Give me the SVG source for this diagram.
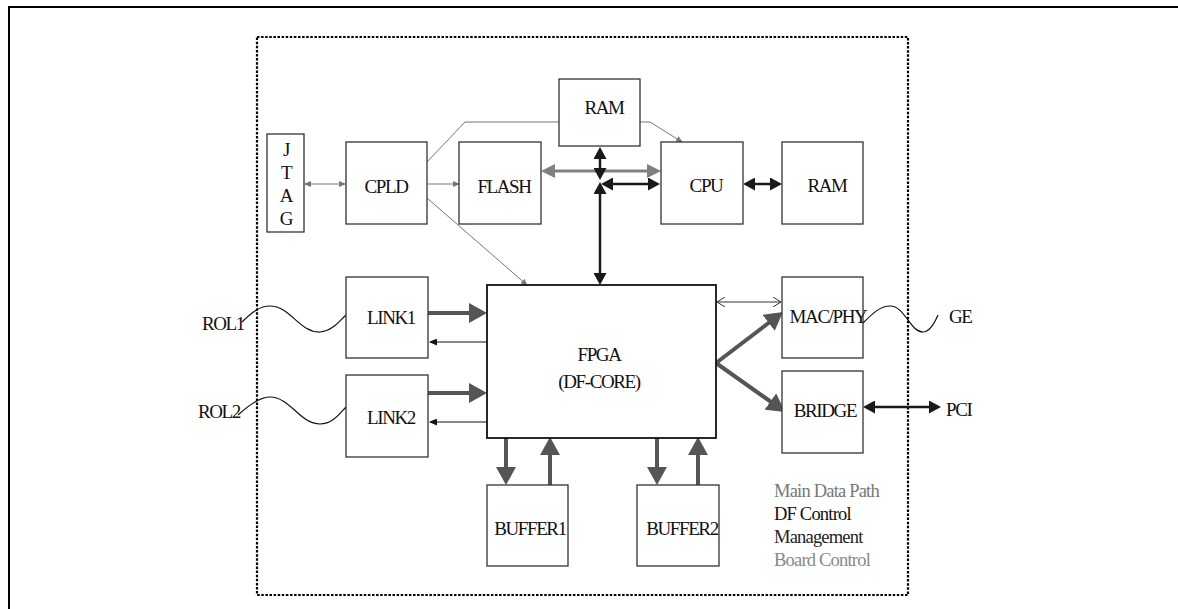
<svg xmlns="http://www.w3.org/2000/svg" width="1178" height="609" viewBox="0 0 1178 609">
<style>
.box{fill:#fff;stroke:#333;stroke-width:1.3}
.t{font-family:"Liberation Serif","Times New Roman",serif;font-size:19px;fill:#111;letter-spacing:-1.4px;text-anchor:middle}
.ts{font-family:"Liberation Serif","Times New Roman",serif;font-size:19px;fill:#111;letter-spacing:-1.4px}
.lg{font-family:"Liberation Serif","Times New Roman",serif;font-size:18.5px;letter-spacing:-0.8px}
.dp{stroke:#555;stroke-width:4;fill:none}
.gt{stroke:#808080;stroke-width:3;fill:none}
.bk{stroke:#1a1a1a;stroke-width:2.5;fill:none}
.tg{stroke:#777;stroke-width:1;fill:none}
.tb{stroke:#111;stroke-width:1.2;fill:none}
.wave{stroke:#111;stroke-width:1.2;fill:none}
</style>
<defs>
<marker id="mDP" markerUnits="userSpaceOnUse" markerWidth="18" markerHeight="20" refX="13" refY="10" orient="auto-start-reverse"><path d="M0,0 L18,10 L0,20 z" fill="#555"/></marker>
<marker id="mGT" markerUnits="userSpaceOnUse" markerWidth="14" markerHeight="14" refX="10" refY="7" orient="auto-start-reverse"><path d="M0,0 L14,7 L0,14 z" fill="#808080"/></marker>
<marker id="mBK" markerUnits="userSpaceOnUse" markerWidth="12" markerHeight="13" refX="8" refY="6.5" orient="auto-start-reverse"><path d="M0,0 L12,6.5 L0,13 z" fill="#1a1a1a"/></marker>
<marker id="mTG" markerUnits="userSpaceOnUse" markerWidth="7" markerHeight="6" refX="6" refY="3" orient="auto-start-reverse"><path d="M0,0 L7,3 L0,6 z" fill="#777"/></marker>
<marker id="mTB" markerUnits="userSpaceOnUse" markerWidth="8" markerHeight="7" refX="7" refY="3.5" orient="auto-start-reverse"><path d="M0,0 L8,3.5 L0,7 z" fill="#111"/></marker>
<marker id="mOP" markerUnits="userSpaceOnUse" markerWidth="9" markerHeight="10" refX="8" refY="5" orient="auto-start-reverse"><path d="M0,0 L8,5 L0,10" fill="none" stroke="#333" stroke-width="1"/></marker>
</defs>
<rect x="0" y="0" width="1178" height="609" fill="#fff"/>
<rect x="9" y="7" width="1200" height="640" fill="none" stroke="#000" stroke-width="2"/>
<rect x="257" y="37" width="651" height="558" fill="none" stroke="#000" stroke-width="2.2" stroke-dasharray="2.5 1.6"/>

<g id="connectors">
<line class="tg" x1="305" y1="184" x2="345" y2="184" marker-start="url(#mTG)" marker-end="url(#mTG)"/>
<line class="tg" x1="427" y1="184" x2="459" y2="184" marker-end="url(#mTG)"/>
<polyline class="tg" points="427,162 465,122 650,122 682,142" marker-end="url(#mTG)"/>
<line class="tg" x1="427" y1="198" x2="527" y2="285" marker-end="url(#mTG)"/>
<line class="gt" x1="545" y1="171" x2="657" y2="171" marker-start="url(#mGT)" marker-end="url(#mGT)"/>
<line class="bk" x1="600" y1="151" x2="600" y2="176" marker-start="url(#mBK)" marker-end="url(#mBK)"/>
<line class="bk" x1="600" y1="186" x2="600" y2="281" marker-start="url(#mBK)" marker-end="url(#mBK)"/>
<line class="bk" x1="605" y1="184" x2="656" y2="184" marker-start="url(#mBK)" marker-end="url(#mBK)"/>
<line class="bk" x1="747" y1="184" x2="778" y2="184" marker-start="url(#mBK)" marker-end="url(#mBK)"/>
<line class="dp" x1="428" y1="313" x2="482" y2="313" marker-end="url(#mDP)"/>
<line class="tb" x1="487" y1="342" x2="430" y2="342" marker-end="url(#mTB)"/>
<line class="dp" x1="425" y1="393" x2="482" y2="393" marker-end="url(#mDP)"/>
<line class="tb" x1="487" y1="422" x2="430" y2="422" marker-end="url(#mTB)"/>
<line stroke="#333" stroke-width="1" x1="717" y1="302" x2="781" y2="302" marker-start="url(#mOP)" marker-end="url(#mOP)"/>
<line class="dp" stroke-linecap="round" x1="716" y1="363" x2="779" y2="315" marker-end="url(#mDP)"/>
<line class="dp" stroke-linecap="round" x1="716" y1="363" x2="781" y2="409" marker-end="url(#mDP)"/>
<line class="bk" x1="867" y1="407" x2="937" y2="407" marker-start="url(#mBK)" marker-end="url(#mBK)"/>
<line class="dp" x1="506" y1="437" x2="506" y2="480" marker-end="url(#mDP)"/>
<line class="dp" x1="550" y1="485" x2="550" y2="442" marker-end="url(#mDP)"/>
<line class="dp" x1="657" y1="437" x2="657" y2="480" marker-end="url(#mDP)"/>
<line class="dp" x1="698" y1="485" x2="698" y2="442" marker-end="url(#mDP)"/>
<path class="wave" d="M242,322 C252,312 260,306 270,306 C290,306 300,333 320,332 C333,331 340,320 346,315"/>
<path class="wave" d="M238,415 C250,404 260,397 270,397 C290,397 300,424 320,424 C333,424 340,413 346,407"/>
<path class="wave" d="M863,323 C872,314 880,306 890,306 C905,306 910,332 923,332 C930,332 935,322 938,315"/>
</g>

<g id="jtag"><rect class="box" x="267" y="134" width="37" height="98"/>
<text class="t" x="286" y="156">J</text><text class="t" x="286" y="179">T</text><text class="t" x="286" y="202">A</text><text class="t" x="286" y="225">G</text></g>
<g id="cpld"><rect class="box" x="346" y="142" width="81" height="82"/><text class="t" x="386" y="193">CPLD</text></g>
<g id="flash"><rect class="box" x="459" y="142" width="82" height="82"/><text class="t" x="504" y="193">FLASH</text></g>
<g id="ram-top"><rect class="box" x="559" y="79" width="81" height="67"/><text class="t" x="604" y="114">RAM</text></g>
<g id="cpu"><rect class="box" x="661" y="142" width="82" height="82"/><text class="t" x="706" y="192">CPU</text></g>
<g id="ram-right"><rect class="box" x="782" y="142" width="81" height="82"/><text class="t" x="827" y="192">RAM</text></g>
<g id="link1"><rect class="box" x="346" y="277" width="82" height="81"/><text class="t" x="391" y="324">LINK1</text></g>
<g id="link2"><rect class="box" x="346" y="375" width="82" height="82"/><text class="t" x="391" y="424">LINK2</text></g>
<g id="fpga"><rect class="box" style="stroke:#111;stroke-width:1.8" x="487" y="285" width="229" height="153"/>
<text class="t" x="599" y="361">FPGA</text><text class="t" x="599" y="388">(DF-CORE)</text></g>
<g id="macphy"><rect class="box" x="782" y="277" width="81" height="81"/><text class="t" x="828" y="323">MAC/PHY</text></g>
<g id="bridge"><rect class="box" x="782" y="371" width="81" height="82"/><text class="t" x="825" y="417">BRIDGE</text></g>
<g id="buffer1"><rect class="box" x="487" y="485" width="81" height="81"/><text class="t" x="530" y="535">BUFFER1</text></g>
<g id="buffer2"><rect class="box" x="637" y="485" width="82" height="81"/><text class="t" x="682" y="535">BUFFER2</text></g>
<g id="rol1"><text class="ts" x="202" y="330">ROL1</text></g>
<g id="rol2"><text class="ts" x="198" y="418">ROL2</text></g>
<g id="ge"><text class="ts" x="949" y="323">GE</text></g>
<g id="pci"><text class="ts" x="946" y="416">PCI</text></g>
<g id="legend">
<text class="lg" x="774" y="497" fill="#777">Main Data Path</text>
<text class="lg" x="774" y="520" fill="#111">DF Control</text>
<text class="lg" x="774" y="543" fill="#222">Management</text>
<text class="lg" x="774" y="566" fill="#888">Board Control</text>
</g>
</svg>
